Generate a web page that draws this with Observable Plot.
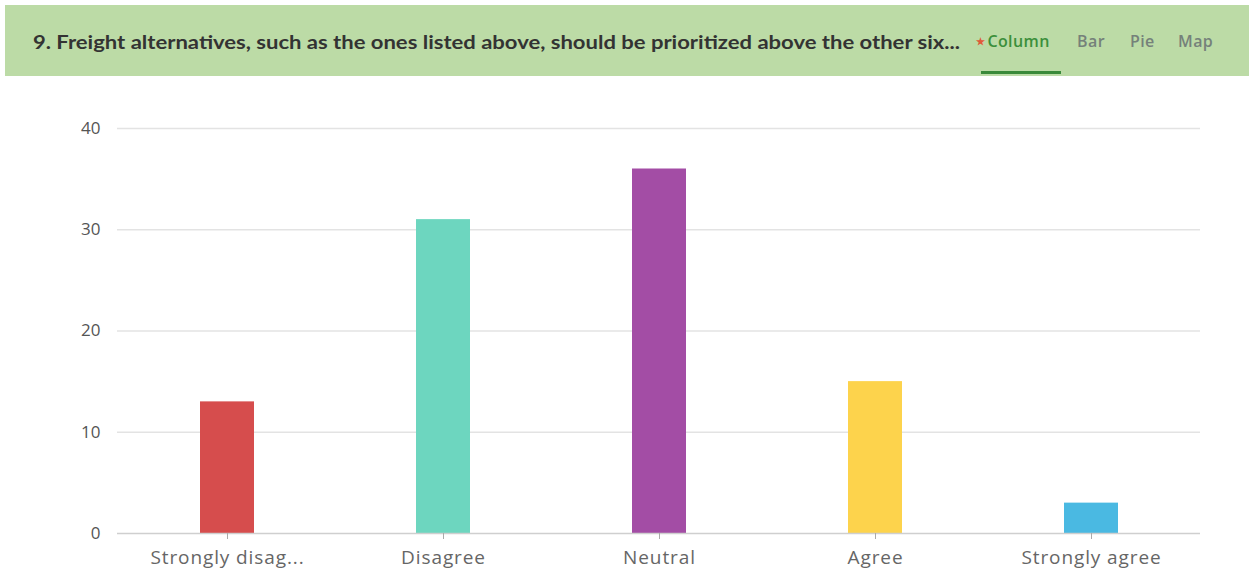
<!DOCTYPE html>
<html>
<head>
<meta charset="utf-8">
<script src="https://cdn.jsdelivr.net/npm/d3@7"></script>
<script src="https://cdn.jsdelivr.net/npm/@observablehq/plot@0.6"></script>
<style>
  html, body { margin: 0; padding: 0; background: #fff; width: 1254px; height: 573px; overflow: hidden; }
  #header { position: absolute; left: 5px; top: 5px; width: 1244px; height: 71px; background: #bcdba6; }
  #title { position: absolute; left: 28px; top: 25px; font-family: Lato, "Open Sans", sans-serif; font-size: 19px; font-weight: bold; color: #333; white-space: nowrap; transform-origin: 0 0; }
  .tab { position: absolute; top: 25px; font-family: "Open Sans", Lato, sans-serif; font-size: 16px; font-weight: 600; color: #75817a; white-space: nowrap; letter-spacing: 0.4px; }
  #tab-col { color: #3b8f3b; left: 971px; }
  #tab-col .star { color: #e05a3a; font-size: 10px; vertical-align: 2px; margin-right: 2px; }
  #underline { position: absolute; left: 976px; top: 66px; width: 80px; height: 3px; background: #3a8a3a; }
  #chart { position: absolute; left: 0; top: 80px; }
  #chart svg g[aria-label="x-axis tick label"] text { letter-spacing: 0.9px; }
</style>
</head>
<body>
<div id="header">
  <div id="title"></div>
  <div class="tab" id="tab-col"><span class="star">★</span>Column</div>
  <div class="tab" style="left:1072px">Bar</div>
  <div class="tab" style="left:1125px">Pie</div>
  <div class="tab" style="left:1173px">Map</div>
  <div id="underline"></div>
</div>
<div id="chart"></div>
<script>
const titleText = "9. Freight alternatives, such as the ones listed above, should be prioritized above the other six...";
const categories = ["Strongly disag...", "Disagree", "Neutral", "Agree", "Strongly agree"];
const counts = [13, 31, 36, 15, 3];
const colors = ["#d64d4d", "#6dd6bf", "#a34da5", "#fdd34c", "#4ab9e2"];
const yTicks = [0, 10, 20, 30, 40];

const titleEl = document.getElementById("title");
titleEl.textContent = titleText;
const tw = titleEl.getBoundingClientRect().width;
if (tw > 0) titleEl.style.transform = `scaleX(${927 / tw})`;

const data = categories.map((c, i) => ({category: c, count: counts[i]}));

const chart = Plot.plot({
  width: 1254,
  height: 493,
  marginLeft: 117,
  marginRight: 54,
  marginTop: 48,
  marginBottom: 40,
  style: {fontFamily: "'Open Sans', Lato, sans-serif", background: "transparent"},
  x: {domain: categories, paddingInner: 0.75, paddingOuter: 0.375, label: null},
  y: {domain: [0, 40], label: null},
  color: {domain: categories, range: colors},
  marks: [
    Plot.ruleY(yTicks.filter(d => d > 0), {stroke: "#e3e3e3", strokeWidth: 1.5}),
    Plot.barY(data, {x: "category", y: "count", fill: "category"}),
    Plot.ruleY([0], {stroke: "#cfcfcf", strokeWidth: 1.5}),
    Plot.axisY({ticks: yTicks, tickSize: 0, tickPadding: 17, fontSize: 17, color: "#555", label: null}),
    Plot.axisX({tickSize: 6, tickPadding: 11, fontSize: 19, color: "#666", stroke: "#aaa", label: null})
  ]
});
document.getElementById("chart").appendChild(chart);
</script>
</body>
</html>
